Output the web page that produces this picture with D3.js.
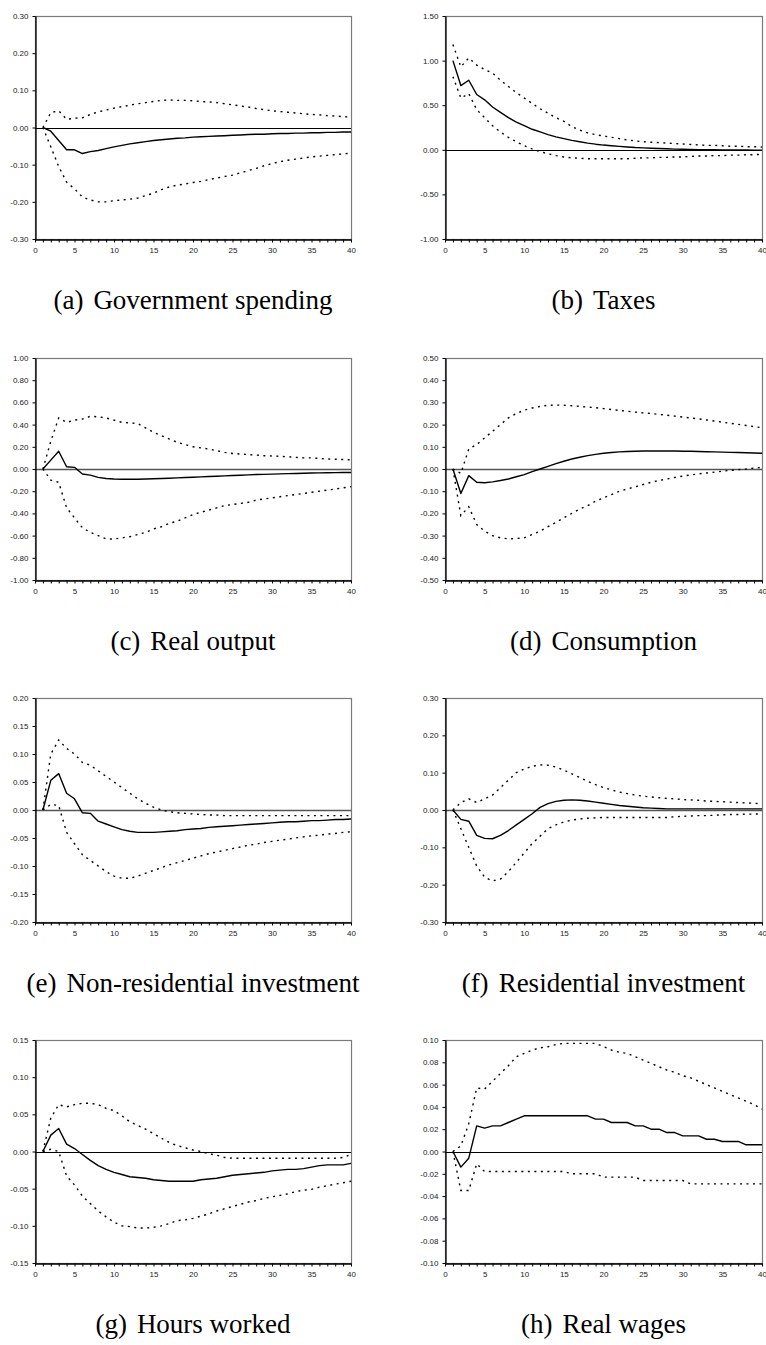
<!DOCTYPE html>
<html>
<head>
<meta charset="utf-8">
<script src="https://cdn.jsdelivr.net/npm/d3@7"></script>
<style>
  body { margin: 0; background: #fff; }
  svg { display: block; }
</style>
</head>
<body>
<div id="chart"></div>
<script>
// quarters after the shock
const periods = [1, 2, 3, 4, 5, 6, 7, 8, 9, 10,
  11, 12, 13, 14, 15, 16, 17, 18, 19, 20,
  21, 22, 23, 24, 25, 26, 27, 28, 29, 30,
  31, 32, 33, 34, 35, 36, 37, 38, 39, 40];

// (a) Government spending
const govMid = [0, -0.01, -0.035, -0.06, -0.06, -0.07, -0.065, -0.062, -0.057, -0.052,
  -0.048, -0.044, -0.041, -0.038, -0.035, -0.033, -0.031, -0.029, -0.028, -0.026,
  -0.025, -0.024, -0.023, -0.022, -0.021, -0.02, -0.019, -0.018, -0.018, -0.017,
  -0.016, -0.016, -0.015, -0.015, -0.014, -0.014, -0.013, -0.013, -0.012, -0.012];
const govUp = [0, 0.04, 0.045, 0.022, 0.025, 0.026, 0.035, 0.042, 0.047, 0.052,
  0.056, 0.06, 0.064, 0.067, 0.07, 0.073, 0.074, 0.073, 0.073, 0.072,
  0.07, 0.069, 0.067, 0.064, 0.061, 0.058, 0.055, 0.051, 0.048, 0.045,
  0.043, 0.041, 0.039, 0.037, 0.035, 0.034, 0.032, 0.031, 0.029, 0.028];
const govLo = [0, -0.052, -0.105, -0.147, -0.165, -0.187, -0.195, -0.2, -0.2, -0.197,
  -0.195, -0.193, -0.19, -0.183, -0.177, -0.167, -0.16, -0.155, -0.152, -0.148,
  -0.145, -0.14, -0.136, -0.132, -0.128, -0.122, -0.116, -0.11, -0.103, -0.097,
  -0.092, -0.088, -0.085, -0.082, -0.079, -0.077, -0.075, -0.073, -0.071, -0.069];

// (b) Taxes
const taxMid = [1.0, 0.72, 0.78, 0.62, 0.56, 0.48, 0.42, 0.36, 0.31, 0.27,
  0.23, 0.2, 0.17, 0.145, 0.125, 0.105, 0.09, 0.075, 0.063, 0.053,
  0.045, 0.038, 0.032, 0.026, 0.022, 0.018, 0.014, 0.011, 0.008, 0.006,
  0.004, 0.002, 0.001, 0, -0.001, -0.002, -0.003, -0.003, -0.004, -0.004];
const taxUp = [1.18, 0.93, 1.03, 0.95, 0.9, 0.86, 0.78, 0.71, 0.64, 0.58,
  0.52, 0.46, 0.41, 0.36, 0.32, 0.26, 0.22, 0.19, 0.17, 0.155,
  0.14, 0.125, 0.11, 0.1, 0.09, 0.085, 0.08, 0.075, 0.07, 0.065,
  0.06, 0.055, 0.05, 0.05, 0.045, 0.04, 0.04, 0.035, 0.035, 0.03];
const taxLo = [0.82, 0.58, 0.63, 0.45, 0.36, 0.27, 0.2, 0.14, 0.09, 0.045,
  0.01, -0.02, -0.045, -0.065, -0.08, -0.09, -0.095, -0.1, -0.1, -0.1,
  -0.1, -0.1, -0.1, -0.095, -0.09, -0.09, -0.085, -0.085, -0.08, -0.08,
  -0.075, -0.07, -0.07, -0.065, -0.065, -0.06, -0.06, -0.055, -0.055, -0.05];

// (c) Real output
const outMid = [0, 0.08, 0.16, 0.02, 0.015, -0.045, -0.055, -0.075, -0.085, -0.09,
  -0.093, -0.093, -0.092, -0.09, -0.088, -0.086, -0.083, -0.08, -0.077, -0.074,
  -0.071, -0.068, -0.065, -0.062, -0.059, -0.056, -0.053, -0.05, -0.048, -0.046,
  -0.044, -0.042, -0.04, -0.038, -0.036, -0.035, -0.034, -0.033, -0.032, -0.031];
const outUp = [0, 0.25, 0.46, 0.42, 0.44, 0.45, 0.475, 0.47, 0.46, 0.44,
  0.42, 0.415, 0.41, 0.37, 0.33, 0.3, 0.27, 0.24, 0.22, 0.2,
  0.19, 0.18, 0.165, 0.15, 0.14, 0.135, 0.13, 0.125, 0.12, 0.117,
  0.115, 0.11, 0.105, 0.1, 0.1, 0.095, 0.09, 0.088, 0.085, 0.082];
const outLo = [0, -0.1, -0.12, -0.35, -0.44, -0.53, -0.57, -0.6, -0.63, -0.63,
  -0.62, -0.61, -0.59, -0.57, -0.54, -0.52, -0.49, -0.47, -0.44, -0.41,
  -0.39, -0.37, -0.35, -0.33, -0.32, -0.31, -0.3, -0.28, -0.27, -0.26,
  -0.25, -0.24, -0.23, -0.22, -0.21, -0.2, -0.19, -0.18, -0.17, -0.16];

// (d) Consumption
const conMid = [0, -0.11, -0.03, -0.06, -0.062, -0.058, -0.052, -0.045, -0.035, -0.025,
  -0.012, 0.0, 0.012, 0.024, 0.035, 0.045, 0.053, 0.06, 0.066, 0.071,
  0.074, 0.077, 0.079, 0.08, 0.081, 0.081, 0.081, 0.081, 0.081, 0.08,
  0.08, 0.079, 0.078, 0.077, 0.076, 0.075, 0.074, 0.073, 0.072, 0.071];
const conUp = [0, -0.02, 0.09, 0.11, 0.14, 0.17, 0.2, 0.23, 0.25, 0.265,
  0.275, 0.282, 0.287, 0.288, 0.287, 0.285, 0.282, 0.279, 0.276, 0.272,
  0.268, 0.264, 0.26, 0.256, 0.253, 0.25, 0.246, 0.242, 0.238, 0.234,
  0.23, 0.226, 0.221, 0.216, 0.211, 0.206, 0.201, 0.196, 0.191, 0.186];
const conLo = [0, -0.21, -0.17, -0.25, -0.28, -0.3, -0.31, -0.315, -0.313, -0.31,
  -0.295, -0.28, -0.26, -0.24, -0.22, -0.2, -0.18, -0.165, -0.145, -0.13,
  -0.115, -0.1, -0.09, -0.08, -0.07, -0.06, -0.052, -0.045, -0.038, -0.032,
  -0.027, -0.022, -0.018, -0.014, -0.01, -0.006, -0.003, 0.0, 0.004, 0.007];

// (e) Non-residential investment
const nriMid = [0, 0.053, 0.065, 0.03, 0.02, -0.005, -0.006, -0.02, -0.025, -0.03,
  -0.035, -0.038, -0.04, -0.04, -0.04, -0.039, -0.038, -0.037, -0.035, -0.034,
  -0.033, -0.031, -0.03, -0.029, -0.028, -0.027, -0.026, -0.025, -0.024, -0.023,
  -0.022, -0.021, -0.021, -0.02, -0.019, -0.019, -0.018, -0.017, -0.017, -0.016];
const nriUp = [0, 0.1, 0.125, 0.11, 0.1, 0.085, 0.08, 0.07, 0.06, 0.05,
  0.04, 0.03, 0.02, 0.012, 0.005, 0.0, -0.003, -0.005, -0.006, -0.007,
  -0.008, -0.009, -0.009, -0.01, -0.01, -0.01, -0.01, -0.01, -0.01, -0.01,
  -0.01, -0.01, -0.01, -0.01, -0.01, -0.01, -0.01, -0.01, -0.01, -0.01];
const nriLo = [0, 0.01, 0.008, -0.04, -0.06, -0.08, -0.09, -0.1, -0.11, -0.118,
  -0.122, -0.122, -0.118, -0.113, -0.108, -0.103, -0.098, -0.094, -0.09, -0.086,
  -0.082, -0.078, -0.075, -0.072, -0.069, -0.066, -0.063, -0.061, -0.058, -0.056,
  -0.054, -0.052, -0.05, -0.048, -0.046, -0.045, -0.043, -0.042, -0.04, -0.039];

// (f) Residential investment
const resMid = [0, -0.025, -0.03, -0.068, -0.076, -0.077, -0.068, -0.055, -0.04, -0.025,
  -0.01, 0.007, 0.017, 0.023, 0.026, 0.027, 0.026, 0.024, 0.021, 0.018,
  0.015, 0.012, 0.01, 0.008, 0.006, 0.005, 0.004, 0.003, 0.003, 0.003,
  0.003, 0.003, 0.003, 0.003, 0.003, 0.003, 0.003, 0.003, 0.003, 0.003];
const resUp = [0, 0.02, 0.03, 0.02, 0.03, 0.04, 0.06, 0.08, 0.1, 0.11,
  0.117, 0.121, 0.12, 0.115, 0.107, 0.097, 0.087, 0.077, 0.068, 0.06,
  0.054, 0.048, 0.044, 0.04, 0.037, 0.035, 0.033, 0.031, 0.03, 0.028,
  0.027, 0.026, 0.024, 0.023, 0.022, 0.021, 0.02, 0.019, 0.018, 0.017];
const resLo = [0, -0.05, -0.1, -0.15, -0.18, -0.19, -0.185, -0.165, -0.14, -0.115,
  -0.09, -0.07, -0.05, -0.04, -0.032, -0.027, -0.024, -0.022, -0.021, -0.02,
  -0.02, -0.02, -0.02, -0.02, -0.02, -0.02, -0.02, -0.02, -0.018, -0.017,
  -0.016, -0.015, -0.015, -0.014, -0.013, -0.012, -0.012, -0.011, -0.011, -0.01];

// (g) Hours worked
const hrsMid = [0, 0.022, 0.031, 0.01, 0.004, -0.004, -0.012, -0.019, -0.024, -0.028,
  -0.031, -0.034, -0.035, -0.036, -0.038, -0.039, -0.04, -0.04, -0.04, -0.04,
  -0.038, -0.037, -0.036, -0.034, -0.032, -0.031, -0.03, -0.029, -0.028, -0.026,
  -0.025, -0.024, -0.024, -0.023, -0.021, -0.019, -0.018, -0.018, -0.018, -0.016];
const hrsUp = [0, 0.045, 0.063, 0.06, 0.063, 0.065, 0.065, 0.063, 0.058, 0.055,
  0.048, 0.04, 0.035, 0.03, 0.024, 0.018, 0.012, 0.008, 0.005, 0.002,
  0.0, -0.003, -0.005, -0.008, -0.009, -0.009, -0.009, -0.009, -0.009, -0.009,
  -0.009, -0.009, -0.009, -0.009, -0.009, -0.009, -0.009, -0.009, -0.008, -0.004];
const hrsLo = [0, 0.003, 0.0, -0.033, -0.045, -0.06, -0.07, -0.08, -0.088, -0.095,
  -0.1, -0.101, -0.103, -0.103, -0.102, -0.1, -0.097, -0.093, -0.092, -0.09,
  -0.087, -0.084, -0.08, -0.077, -0.074, -0.071, -0.068, -0.066, -0.063, -0.061,
  -0.059, -0.057, -0.054, -0.052, -0.051, -0.048, -0.046, -0.044, -0.042, -0.04];

// (h) Real wages
const wagMid = [0, -0.014, -0.006, 0.023, 0.021, 0.023, 0.023, 0.026, 0.029, 0.032,
  0.032, 0.032, 0.032, 0.032, 0.032, 0.032, 0.032, 0.032, 0.029, 0.029,
  0.026, 0.026, 0.026, 0.023, 0.023, 0.02, 0.02, 0.017, 0.017, 0.014,
  0.014, 0.014, 0.011, 0.011, 0.009, 0.009, 0.009, 0.006, 0.006, 0.006];
const wagUp = [0, 0.005, 0.025, 0.057, 0.056, 0.063, 0.07, 0.077, 0.085, 0.088,
  0.091, 0.093, 0.094, 0.096, 0.097, 0.097, 0.097, 0.097, 0.097, 0.094,
  0.091, 0.089, 0.088, 0.085, 0.082, 0.079, 0.076, 0.073, 0.071, 0.068,
  0.066, 0.063, 0.06, 0.057, 0.054, 0.051, 0.048, 0.045, 0.042, 0.038];
const wagLo = [0, -0.035, -0.035, -0.011, -0.018, -0.018, -0.018, -0.018, -0.018, -0.018,
  -0.018, -0.018, -0.018, -0.018, -0.018, -0.02, -0.02, -0.02, -0.02, -0.023,
  -0.023, -0.023, -0.023, -0.023, -0.026, -0.026, -0.026, -0.026, -0.026, -0.026,
  -0.029, -0.029, -0.029, -0.029, -0.029, -0.029, -0.029, -0.029, -0.029, -0.029];

const letters = ["a", "b", "c", "d", "e", "f", "g", "h"];
const titles = ["Government spending", "Taxes", "Real output", "Consumption",
  "Non-residential investment", "Residential investment", "Hours worked", "Real wages"];
// y axis: [min, max, step]
const yRanges = [[-0.3, 0.3, 0.1], [-1, 1.5, 0.5], [-1, 1, 0.2], [-0.5, 0.5, 0.1],
  [-0.2, 0.2, 0.05], [-0.3, 0.3, 0.1], [-0.15, 0.15, 0.05], [-0.1, 0.1, 0.02]];
const series = [[govMid, govUp, govLo], [taxMid, taxUp, taxLo], [outMid, outUp, outLo],
  [conMid, conUp, conLo], [nriMid, nriUp, nriLo], [resMid, resUp, resLo],
  [hrsMid, hrsUp, hrsLo], [wagMid, wagUp, wagLo]];

const W = 766, H = 1345;
const cols = [[35, 351], [445, 762]];
const rows = [[16, 239], [358, 580], [698, 922], [1040, 1263]];
const greyZero = ["c", "d", "e", "f"];

const svg = d3.select("#chart").append("svg")
  .attr("width", W)
  .attr("height", H)
  .style("background", "#fff");

const fmt = v => {
  const r = Math.round(v * 100) / 100;
  return (r < 0 ? "-" : "") + Math.abs(r).toFixed(2);
};

letters.forEach((letter, i) => {
  const [x0, x1] = cols[i % 2];
  const [y0, y1] = rows[Math.floor(i / 2)];
  const [yMin, yMax, step] = yRanges[i];
  const [mid, up, lo] = series[i];

  const x = d3.scaleLinear().domain([0, 40]).range([x0, x1]);
  const y = d3.scaleLinear().domain([yMin, yMax]).range([y1, y0]);

  const nTicks = Math.round((yMax - yMin) / step);
  const yTicks = d3.range(nTicks + 1).map(k => +(yMin + k * step).toFixed(4));

  const g = svg.append("g");

  // plot frame
  g.append("rect")
    .attr("x", x0 + 0.5).attr("y", y0 + 0.5)
    .attr("width", x1 - x0).attr("height", y1 - y0)
    .attr("fill", "none")
    .attr("stroke", "#7a7a7a")
    .attr("stroke-width", 1.2);

  // zero line
  const grey = greyZero.includes(letter);
  g.append("line")
    .attr("x1", x0).attr("x2", x1)
    .attr("y1", Math.round(y(0)) + 0.5).attr("y2", Math.round(y(0)) + 0.5)
    .attr("stroke", grey ? "#555" : "#000")
    .attr("stroke-width", grey ? 1.6 : 1);

  const line = d3.line()
    .x((d, k) => x(periods[k]))
    .y(d => y(d));

  [up, lo].forEach(s => {
    g.append("path")
      .datum(s)
      .attr("d", line)
      .attr("fill", "none")
      .attr("stroke", "#000")
      .attr("stroke-width", 1.4)
      .attr("stroke-dasharray", "2,4.5");
  });

  g.append("path")
    .datum(mid)
    .attr("d", line)
    .attr("fill", "none")
    .attr("stroke", "#000")
    .attr("stroke-width", 1.4)
    .attr("stroke-linejoin", "round");

  // axes
  const yAxis = g.append("g")
    .attr("transform", `translate(${x0 + 0.5},0)`)
    .call(d3.axisLeft(y).tickValues(yTicks).tickSize(3).tickSizeOuter(0)
      .tickPadding(4).tickFormat(fmt));

  const xAxis = g.append("g")
    .attr("transform", `translate(0,${y1 + 0.5})`)
    .call(d3.axisBottom(x).tickValues(d3.range(0, 41)).tickSize(3).tickSizeOuter(0)
      .tickPadding(5).tickFormat(d => d % 5 === 0 ? d : ""));

  [yAxis, xAxis].forEach(a => {
    a.select(".domain").attr("stroke", "#000").attr("stroke-width", 1.3);
    a.selectAll(".tick line").attr("stroke", "#000").attr("stroke-width", 1);
    a.selectAll("text")
      .attr("fill", "#222")
      .style("font-family", "'Liberation Sans', Arial, sans-serif")
      .style("font-size", "8px");
  });

  // caption
  const cap = svg.append("text")
    .attr("x", (x0 + x1) / 2)
    .attr("y", y1 + 70)
    .attr("text-anchor", "middle")
    .style("font-family", "'Liberation Serif', 'Times New Roman', serif")
    .style("font-size", "27px")
    .attr("fill", "#000");
  cap.append("tspan").text(`(${letter})`);
  cap.append("tspan").attr("dx", 10).text(titles[i]);
});
</script>
</body>
</html>
